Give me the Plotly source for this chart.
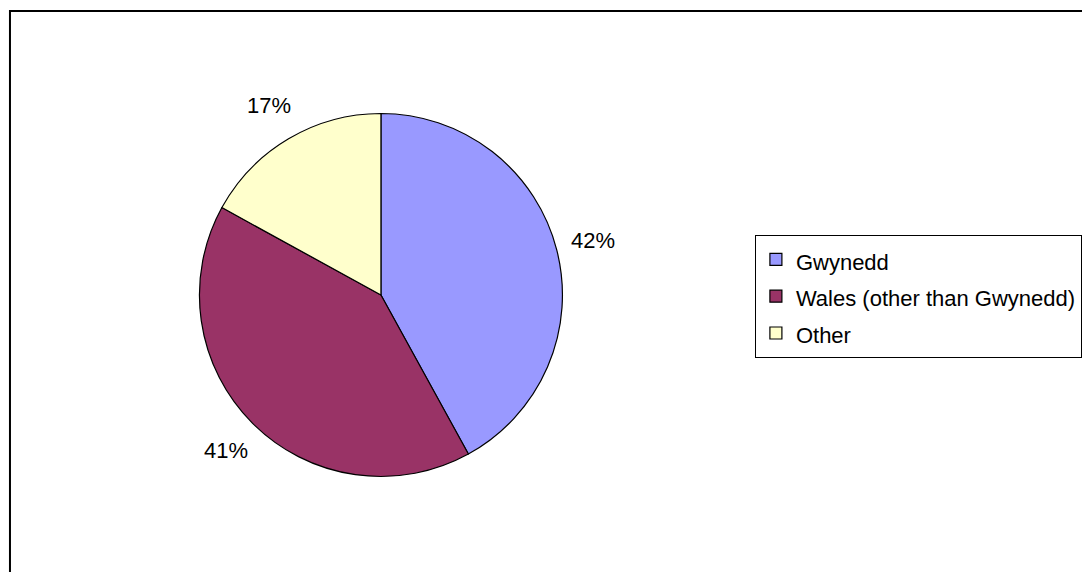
import math
import plotly.graph_objects as go

labels = ["Gwynedd", "Wales (other than Gwynedd)", "Other"]
values = [42, 41, 17]
colors = ["#9999FF", "#993366", "#FFFFCC"]

W, H = 1082, 572
cx, cy, r = 382, 295, 182
label_r = 220
family = "Liberation Sans, Arial, sans-serif"
font = dict(family=family, size=22, color="#000000")

# legend rows are spaced by the legend font size; glyphs drawn at 22px
legend_labels = [f"<span style='font-size:22px'>{l}</span>" for l in labels]

fig = go.Figure(go.Pie(
    labels=legend_labels, values=values, sort=False, direction="clockwise", rotation=0,
    marker=dict(colors=colors, line=dict(color="#000000", width=1.2)),
    textinfo="none", hoverinfo="percent",
    domain=dict(x=[(cx - r) / W, (cx + r) / W], y=[(H - cy - r) / H, (H - cy + r) / H]),
))

total = sum(values)
cum = 0
annotations = []
for v in values:
    mid = (cum + v / 2) / total * 2 * math.pi
    cum += v
    px = cx + label_r * math.sin(mid)
    py = cy - label_r * math.cos(mid)
    annotations.append(dict(x=px / W, y=1 - py / H, xref="paper", yref="paper",
                            text=f"{round(v / total * 100)}%", showarrow=False,
                            font=font, xanchor="center", yanchor="middle"))

fig.update_layout(
    width=W, height=H, autosize=False,
    margin=dict(l=0, r=0, t=0, b=0),
    paper_bgcolor="white", plot_bgcolor="white",
    showlegend=True,
    legend=dict(x=757 / W, y=1 - 235 / H, xanchor="left", yanchor="top",
                bordercolor="#000000", borderwidth=1, bgcolor="white",
                font=dict(family=family, size=26, color="#000000"), itemwidth=30,
                entrywidth=360, entrywidthmode="pixels"),
    annotations=annotations,
    shapes=[dict(type="rect", xref="paper", yref="paper",
                 x0=10 / W, x1=1.05, y0=-0.05, y1=1 - 11 / H,
                 line=dict(color="#000000", width=2))],
)

fig.write_html("out.html", config={"displayModeBar": False},
               post_script="document.body.style.margin='0';")
